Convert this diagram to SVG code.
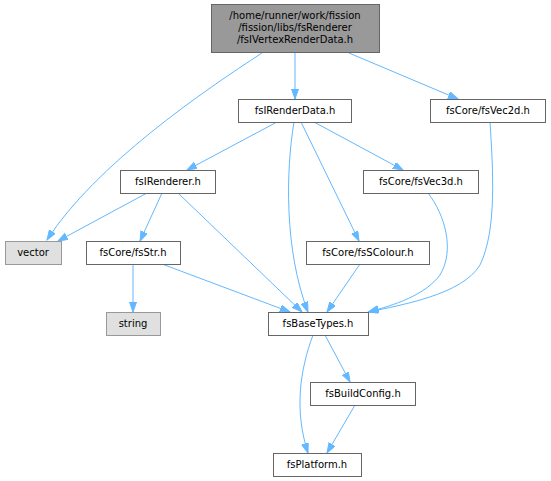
<svg xmlns="http://www.w3.org/2000/svg" width="551" height="481" viewBox="0 0 551 481">
<style>
.n rect{fill:#ffffff;stroke:#666666;stroke-width:1}
.n.ext rect{fill:#e0e0e0;stroke:#999999}
.n.root rect{fill:#999999;stroke:#666666}
.n text{font-family:"DejaVu Sans",sans-serif;font-size:10px;text-anchor:middle;fill:#000000}
.e path{fill:none;stroke:#63b8ff;stroke-width:1}
</style>
<defs>
<marker id="ah" markerUnits="userSpaceOnUse" markerWidth="11" markerHeight="8" refX="10" refY="3.5" orient="auto">
<path d="M0,0 L10,3.5 L0,7 z" fill="#63b8ff" stroke="#63b8ff" stroke-width="1"/>
</marker>
</defs>
<rect width="551" height="481" fill="#ffffff"/>
<g id="edges" class="e" marker-end="url(#ah)">
<path d="M262,53 C205,90 95,165 47,240" marker-end="url(#ah)"/>
<path d="M295,53 L295,99" marker-end="url(#ah)"/>
<path d="M349,53 L458,99" marker-end="url(#ah)"/>
<path d="M277,122 L187,170" marker-end="url(#ah)"/>
<path d="M294,122 C286,170 284,250 308,312" marker-end="url(#ah)"/>
<path d="M301,122 L359,241" marker-end="url(#ah)"/>
<path d="M314,122 L403,170" marker-end="url(#ah)"/>
<path d="M490,122 C493,170 497,230 480,265 C462,295 400,305 369,312" marker-end="url(#ah)"/>
<path d="M428,193 C445,215 455,250 440,275 C425,295 395,305 368,312" marker-end="url(#ah)"/>
<path d="M147,193 L58,241" marker-end="url(#ah)"/>
<path d="M162,193 L140,241" marker-end="url(#ah)"/>
<path d="M178,193 L302,312" marker-end="url(#ah)"/>
<path d="M133,264 L133,312" marker-end="url(#ah)"/>
<path d="M162,264 L290,312" marker-end="url(#ah)"/>
<path d="M360,264 L327,312" marker-end="url(#ah)"/>
<path d="M325,335 L350,382" marker-end="url(#ah)"/>
<path d="M313,335 C300,370 294,410 308,453" marker-end="url(#ah)"/>
<path d="M355,405 L327,453" marker-end="url(#ah)"/>
</g>
<g id="root" class="n root">
<rect x="211.5" y="4.5" width="168" height="48"/>
<text x="295" y="19">/home/runner/work/fission</text>
<text x="295" y="31">/fission/libs/fsRenderer</text>
<text x="295" y="43">/fsIVertexRenderData.h</text>
</g>
<g id="fsIRenderData" class="n">
<rect x="238.5" y="99.5" width="113" height="23"/>
<text x="295" y="114">fsIRenderData.h</text>
</g>
<g id="fsVec2d" class="n">
<rect x="430.5" y="99.5" width="115" height="23"/>
<text x="488" y="114">fsCore/fsVec2d.h</text>
</g>
<g id="fsIRenderer" class="n">
<rect x="120.5" y="170.5" width="95" height="23"/>
<text x="168" y="185">fsIRenderer.h</text>
</g>
<g id="fsVec3d" class="n">
<rect x="363.5" y="170.5" width="115" height="23"/>
<text x="421" y="185">fsCore/fsVec3d.h</text>
</g>
<g id="vector" class="n ext">
<rect x="5.5" y="241.5" width="56" height="23"/>
<text x="33" y="256">vector</text>
</g>
<g id="fsStr" class="n">
<rect x="86.5" y="241.5" width="94" height="23"/>
<text x="133" y="256">fsCore/fsStr.h</text>
</g>
<g id="fsSColour" class="n">
<rect x="306.5" y="241.5" width="123" height="23"/>
<text x="368" y="256">fsCore/fsSColour.h</text>
</g>
<g id="string" class="n ext">
<rect x="106.5" y="312.5" width="54" height="23"/>
<text x="133" y="327">string</text>
</g>
<g id="fsBaseTypes" class="n">
<rect x="268.5" y="312.5" width="100" height="23"/>
<text x="318" y="327">fsBaseTypes.h</text>
</g>
<g id="fsBuildConfig" class="n">
<rect x="310.5" y="382.5" width="105" height="23"/>
<text x="363" y="397">fsBuildConfig.h</text>
</g>
<g id="fsPlatform" class="n">
<rect x="273.5" y="453.5" width="88" height="23"/>
<text x="317" y="468">fsPlatform.h</text>
</g>
</svg>
